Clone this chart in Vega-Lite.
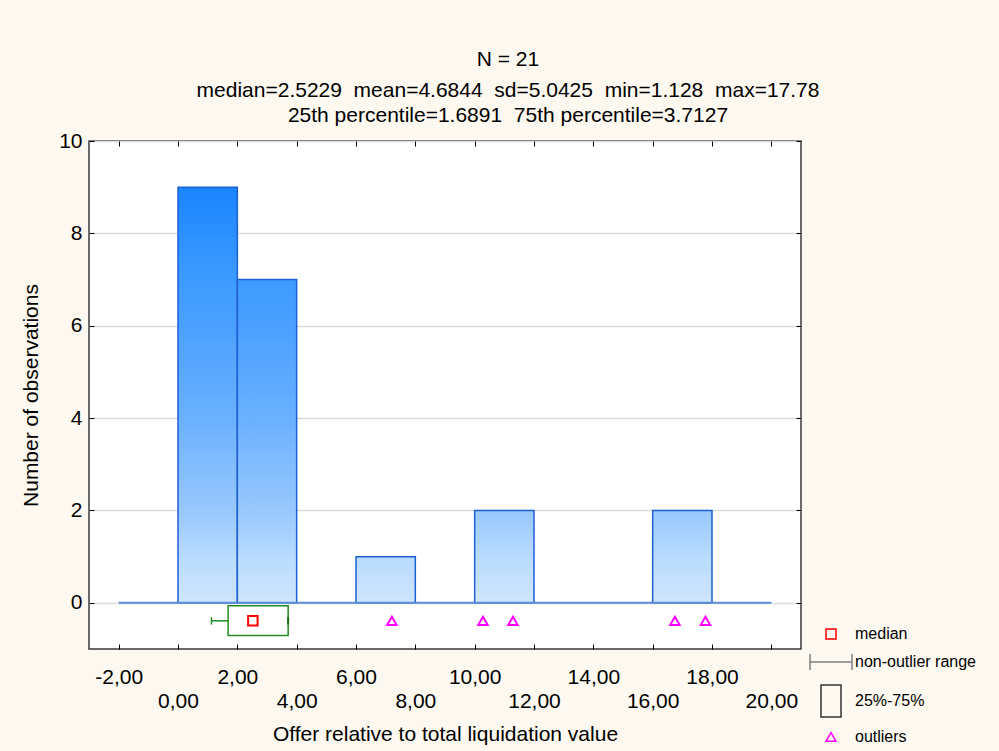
{
 "$schema": "https://vega.github.io/schema/vega-lite/v6.json",
 "width": 712,
 "height": 508,
 "autosize": {"type": "none"},
 "padding": {"left": 89, "top": 141, "right": 198, "bottom": 102},
 "background": "#fdf9f0",
 "config": {
  "font": "Liberation Sans",
  "view": {"fill": "#ffffff", "stroke": "#3a3a3a", "strokeWidth": 1.5},
  "axis": {"labelFont": "Liberation Sans", "titleFont": "Liberation Sans", "labelFontSize": 21, "titleFontSize": 21, "titleFontWeight": "normal", "labelColor": "#000000", "titleColor": "#000000", "tickColor": "#000000"}
 },
 "title": {
  "text": "N = 21",
  "subtitle": ["median=2.5229 \u00a0mean=4.6844 \u00a0sd=5.0425 \u00a0min=1.128 \u00a0max=17.78", "25th percentile=1.6891 \u00a075th percentile=3.7127"],
  "anchor": "middle", "dx": 63, "font": "Liberation Sans", "subtitleFont": "Liberation Sans",
  "fontSize": 21, "fontWeight": "normal", "color": "#000000",
  "subtitleFontSize": 21, "subtitleColor": "#000000", "subtitlePadding": 10, "subtitleLineHeight": 25, "offset": 4
 },
 "datasets": {
  "bins": [
   {"start": 0, "end": 2, "count": 9},
   {"start": 2, "end": 4, "count": 7},
   {"start": 6, "end": 8, "count": 1},
   {"start": 10, "end": 12, "count": 2},
   {"start": 16, "end": 18, "count": 2}
  ],
  "range": [{"from": -2, "to": 20}],
  "box": [{"min": 1.128, "q1": 1.6891, "median": 2.5229, "q3": 3.7127, "upper": 3.7127}],
  "points": [
   {"x": 2.5229, "kind": "median"},
   {"x": 7.21, "kind": "outliers"},
   {"x": 10.28, "kind": "outliers"},
   {"x": 11.29, "kind": "outliers"},
   {"x": 16.75, "kind": "outliers"},
   {"x": 17.78, "kind": "outliers"}
  ]
 },
 "layer": [
  {
   "data": {"name": "range"},
   "mark": {"type": "rule", "opacity": 0},
   "encoding": {
    "x": {"field": "from", "type": "quantitative", "scale": {"domain": [-3, 21], "nice": false, "zero": false},
     "axis": {"orient": "bottom", "values": [-2, 2, 6, 10, 14, 18], "labelExpr": "replace(replace(format(datum.value,'.2f'),'.',','),'\u2212','-')", "grid": false, "domain": false, "tickSize": -5, "labelPadding": 22, "labelOverlap": false, "labelFlush": false, "labelBound": false, "title": "Offer relative to total liquidation value", "titlePadding": 36}},
    "y": {"datum": 0, "type": "quantitative", "scale": {"domain": [-1, 10], "nice": false, "zero": false},
     "axis": {"orient": "left", "values": [0, 2, 4, 6, 8, 10], "grid": true, "gridColor": "#dcdcdc", "gridWidth": 1.5, "domain": false, "tickSize": -5, "labelPadding": 12, "title": "Number of observations", "titlePadding": 17}}
   }
  },
  {
   "data": {"name": "range"},
   "mark": {"type": "rule", "opacity": 0},
   "encoding": {
    "x": {"field": "from", "type": "quantitative",
     "axis": {"orient": "bottom", "values": [0, 4, 8, 12, 16, 20], "labelExpr": "replace(format(datum.value,'.2f'),'.',',')", "grid": false, "domain": false, "tickSize": -5, "labelPadding": 46, "labelOverlap": false, "labelFlush": false, "labelBound": false, "title": null}}
   }
  },
  {
   "data": {"name": "range"},
   "mark": {"type": "rule", "opacity": 0},
   "encoding": {
    "x": {"field": "from", "type": "quantitative",
     "axis": {"orient": "top", "values": [-2, 0, 2, 4, 6, 8, 10, 12, 14, 16, 18, 20], "labels": false, "grid": false, "domain": false, "tickSize": -5, "title": null}},
    "y": {"datum": 0, "type": "quantitative",
     "axis": {"orient": "right", "values": [0, 2, 4, 6, 8, 10], "labels": false, "grid": false, "domain": false, "tickSize": -5, "title": null}}
   }
  },
  {
   "data": {"name": "bins"},
   "transform": [{"filter": "datum.count == 9"}],
   "mark": {"type": "bar", "stroke": "#1f5fd6", "strokeWidth": 1.5, "fill": {"gradient": "linear", "x1": 0, "y1": 0, "x2": 0, "y2": 1, "stops": [{"offset": 0, "color": "#1a85ff"}, {"offset": 0.222, "color": "#3d9bff"}, {"offset": 0.333, "color": "#4aa0ff"}, {"offset": 0.556, "color": "#6ab0ff"}, {"offset": 0.778, "color": "#98c8fd"}, {"offset": 0.889, "color": "#b8dbff"}, {"offset": 1, "color": "#d0e6fc"}]}},
   "encoding": {
    "x": {"field": "start", "type": "quantitative", "axis": null},
    "x2": {"field": "end"},
    "y": {"field": "count", "type": "quantitative", "axis": null},
    "y2": {"datum": 0}
   }
  },
  {
   "data": {"name": "bins"},
   "transform": [{"filter": "datum.count == 7"}],
   "mark": {"type": "bar", "stroke": "#1f5fd6", "strokeWidth": 1.5, "fill": {"gradient": "linear", "x1": 0, "y1": 0, "x2": 0, "y2": 1, "stops": [{"offset": 0, "color": "#3d9bff"}, {"offset": 0.143, "color": "#4aa0ff"}, {"offset": 0.429, "color": "#6ab0ff"}, {"offset": 0.714, "color": "#98c8fd"}, {"offset": 0.857, "color": "#b8dbff"}, {"offset": 1, "color": "#d0e6fc"}]}},
   "encoding": {
    "x": {"field": "start", "type": "quantitative", "axis": null},
    "x2": {"field": "end"},
    "y": {"field": "count", "type": "quantitative", "axis": null},
    "y2": {"datum": 0}
   }
  },
  {
   "data": {"name": "bins"},
   "transform": [{"filter": "datum.count == 2"}],
   "mark": {"type": "bar", "stroke": "#1f5fd6", "strokeWidth": 1.5, "fill": {"gradient": "linear", "x1": 0, "y1": 0, "x2": 0, "y2": 1, "stops": [{"offset": 0, "color": "#98c8fd"}, {"offset": 0.5, "color": "#b8dbff"}, {"offset": 1, "color": "#d0e6fc"}]}},
   "encoding": {
    "x": {"field": "start", "type": "quantitative", "axis": null},
    "x2": {"field": "end"},
    "y": {"field": "count", "type": "quantitative", "axis": null},
    "y2": {"datum": 0}
   }
  },
  {
   "data": {"name": "bins"},
   "transform": [{"filter": "datum.count == 1"}],
   "mark": {"type": "bar", "stroke": "#1f5fd6", "strokeWidth": 1.5, "fill": {"gradient": "linear", "x1": 0, "y1": 0, "x2": 0, "y2": 1, "stops": [{"offset": 0, "color": "#b8dbff"}, {"offset": 1, "color": "#d0e6fc"}]}},
   "encoding": {
    "x": {"field": "start", "type": "quantitative", "axis": null},
    "x2": {"field": "end"},
    "y": {"field": "count", "type": "quantitative", "axis": null},
    "y2": {"datum": 0}
   }
  },
  {
   "data": {"name": "range"},
   "mark": {"type": "rule", "color": "#5b8ddb", "strokeWidth": 2},
   "encoding": {
    "x": {"field": "from", "type": "quantitative", "axis": null},
    "x2": {"field": "to"},
    "y": {"datum": 0, "type": "quantitative", "axis": null}
   }
  },
  {
   "data": {"name": "box"},
   "mark": {"type": "rule", "color": "#228b22", "strokeWidth": 1.5},
   "encoding": {
    "x": {"field": "min", "type": "quantitative", "axis": null},
    "x2": {"field": "q1"},
    "y": {"datum": -0.39, "type": "quantitative", "axis": null}
   }
  },
  {
   "data": {"name": "box"},
   "mark": {"type": "rule", "color": "#228b22", "strokeWidth": 1.5},
   "encoding": {
    "x": {"field": "min", "type": "quantitative", "axis": null},
    "y": {"datum": -0.31, "type": "quantitative", "axis": null},
    "y2": {"datum": -0.47}
   }
  },
  {
   "data": {"name": "box"},
   "mark": {"type": "rect", "fill": "#ffffff", "stroke": "#228b22", "strokeWidth": 1.5},
   "encoding": {
    "x": {"field": "q1", "type": "quantitative", "axis": null},
    "x2": {"field": "q3"},
    "y": {"datum": -0.065, "type": "quantitative", "axis": null},
    "y2": {"datum": -0.71}
   }
  },
  {
   "data": {"name": "box"},
   "mark": {"type": "rule", "color": "#1a6e1a", "strokeWidth": 2},
   "encoding": {
    "x": {"field": "upper", "type": "quantitative", "axis": null},
    "y": {"datum": -0.31, "type": "quantitative", "axis": null},
    "y2": {"datum": -0.47}
   }
  },
  {
   "data": {"name": "points"},
   "mark": {"type": "point", "filled": false, "strokeWidth": 2, "size": 90, "opacity": 1},
   "encoding": {
    "x": {"field": "x", "type": "quantitative", "axis": null},
    "y": {"datum": -0.39, "type": "quantitative", "axis": null},
    "shape": {"field": "kind", "type": "nominal",
     "scale": {"domain": ["median", "non-outlier range", "25%-75%", "outliers"], "range": ["square", "M-4.2,0H4.2M-4.2,-1.6V1.6M4.2,-1.6V1.6", "M-2,-3.2H2V3.2H-2Z", "triangle-up"]},
     "legend": {"title": null, "orient": "none", "legendX": 734, "legendY": 485, "padding": 0, "labelFont": "Liberation Sans", "labelFontSize": 16, "labelColor": "#000000", "symbolSize": 100, "symbolStrokeWidth": 1.5, "labelOffset": 16, "rowPadding": 9,
      "encode": {"labels": {"update": {"dx": {"signal": "datum.value === 'non-outlier range' ? 17 : datum.value === '25%-75%' ? -10 : datum.value === 'outliers' ? -10 : 0"}}}}}},
    "color": {"field": "kind", "type": "nominal",
     "scale": {"domain": ["median", "non-outlier range", "25%-75%", "outliers"], "range": ["#ff0000", "#808080", "#333333", "#ff00ff"]},
     "legend": {"title": null, "orient": "none", "legendX": 734, "legendY": 485, "padding": 0, "labelFont": "Liberation Sans", "labelFontSize": 16, "labelColor": "#000000", "symbolSize": 100, "symbolStrokeWidth": 1.5, "labelOffset": 16, "rowPadding": 9,
      "encode": {"labels": {"update": {"dx": {"signal": "datum.value === 'non-outlier range' ? 17 : datum.value === '25%-75%' ? -10 : datum.value === 'outliers' ? -10 : 0"}}}}}}
   }
  }
 ],
 "resolve": {"axis": {"x": "independent", "y": "independent"}}
}
